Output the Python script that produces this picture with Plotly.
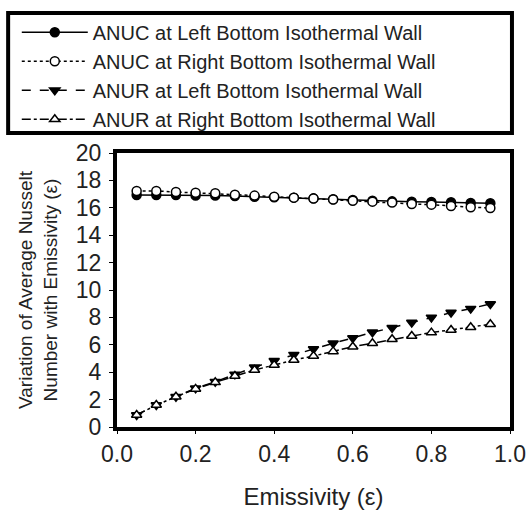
import plotly.graph_objects as go

emissivity = [0.05, 0.10, 0.15, 0.20, 0.25, 0.30, 0.35, 0.40, 0.45, 0.50,
              0.55, 0.60, 0.65, 0.70, 0.75, 0.80, 0.85, 0.90, 0.95]
anuc_left = [16.93, 16.93, 16.93, 16.89, 16.89, 16.86, 16.81, 16.77, 16.74, 16.69,
             16.62, 16.57, 16.52, 16.47, 16.45, 16.42, 16.40, 16.35, 16.33]
anuc_right = [17.23, 17.23, 17.15, 17.10, 17.06, 16.96, 16.89, 16.81, 16.74, 16.67,
              16.60, 16.52, 16.45, 16.38, 16.28, 16.23, 16.13, 16.04, 15.99]
anur_left = [0.88, 1.60, 2.21, 2.82, 3.31, 3.84, 4.36, 4.84, 5.28, 5.69,
             6.11, 6.50, 6.91, 7.25, 7.62, 8.00, 8.35, 8.64, 8.98]
anur_right = [0.88, 1.60, 2.21, 2.78, 3.26, 3.72, 4.16, 4.53, 4.89, 5.18,
              5.52, 5.86, 6.11, 6.40, 6.64, 6.89, 7.08, 7.28, 7.50]
names = ["ANUC at Left Bottom Isothermal Wall",
         "ANUC at Right Bottom Isothermal Wall",
         "ANUR at Left Bottom Isothermal Wall",
         "ANUR at Right Bottom Isothermal Wall"]
x_ticks = [0.0, 0.2, 0.4, 0.6, 0.8, 1.0]
y_ticks = [0, 2, 4, 6, 8, 10, 12, 14, 16, 18, 20]

FONT = "Liberation Sans, Arial, sans-serif"
fig = go.Figure()
series = [
    (anuc_left, names[0], "solid", "circle", "black"),
    (anuc_right, names[1], "dot", "circle", "white"),
    (anur_left, names[2], "dash", "triangle-down", "black"),
    (anur_right, names[3], "dashdot", "triangle-up", "white"),
]
for i, (vals, nm, dash, sym, fill) in enumerate(series):
    fig.add_trace(go.Scatter(
        x=emissivity, y=vals, name=nm, mode="lines+markers",
        line=dict(color="black", width=1.5, dash=dash),
        marker=dict(symbol=sym, size=9, color=fill,
                    line=dict(color="black", width=1.5)),
    ))

fig.update_layout(
    width=527, height=513,
    margin=dict(l=117, r=17, t=153, b=86),
    paper_bgcolor="white", plot_bgcolor="white",
    font=dict(family=FONT, color="#222"),
    showlegend=True,
    legend=dict(x=-0.255, y=1.512, xanchor="left", yanchor="top",
                font=dict(size=20, color="#222"), itemwidth=66,
                bgcolor="rgba(0,0,0,0)", borderwidth=0),
    shapes=[dict(type="rect", xref="paper", yref="paper",
                 x0=-0.277, x1=1.005, y0=1.073, y1=1.511,
                 line=dict(color="black", width=4))],
    xaxis=dict(range=[0, 1], tickvals=x_ticks, ticktext=[f"{v:.1f}" for v in x_ticks],
               showgrid=False, zeroline=False, showline=True, mirror=True,
               linecolor="black", linewidth=4, ticks="outside", ticklen=3,
               tickcolor="black", tickfont=dict(size=23, color="#222"),
               automargin=False,
               title=dict(text="Emissivity (ε)", font=dict(size=24, color="#222"),
                          standoff=24)),
    yaxis=dict(range=[0, 20], tickvals=y_ticks, showgrid=False, zeroline=False,
               showline=True, mirror=True, linecolor="black", linewidth=4,
               ticks="outside", ticklen=4, tickcolor="black",
               tickfont=dict(size=23, color="#222"), ticklabelstandoff=3,
               automargin=False,
               title=dict(text="Variation of Average Nusselt<br>Number with Emissivity (ε)",
                          font=dict(size=19, color="#222"), standoff=14)),
)
fig.write_html("out.html")
